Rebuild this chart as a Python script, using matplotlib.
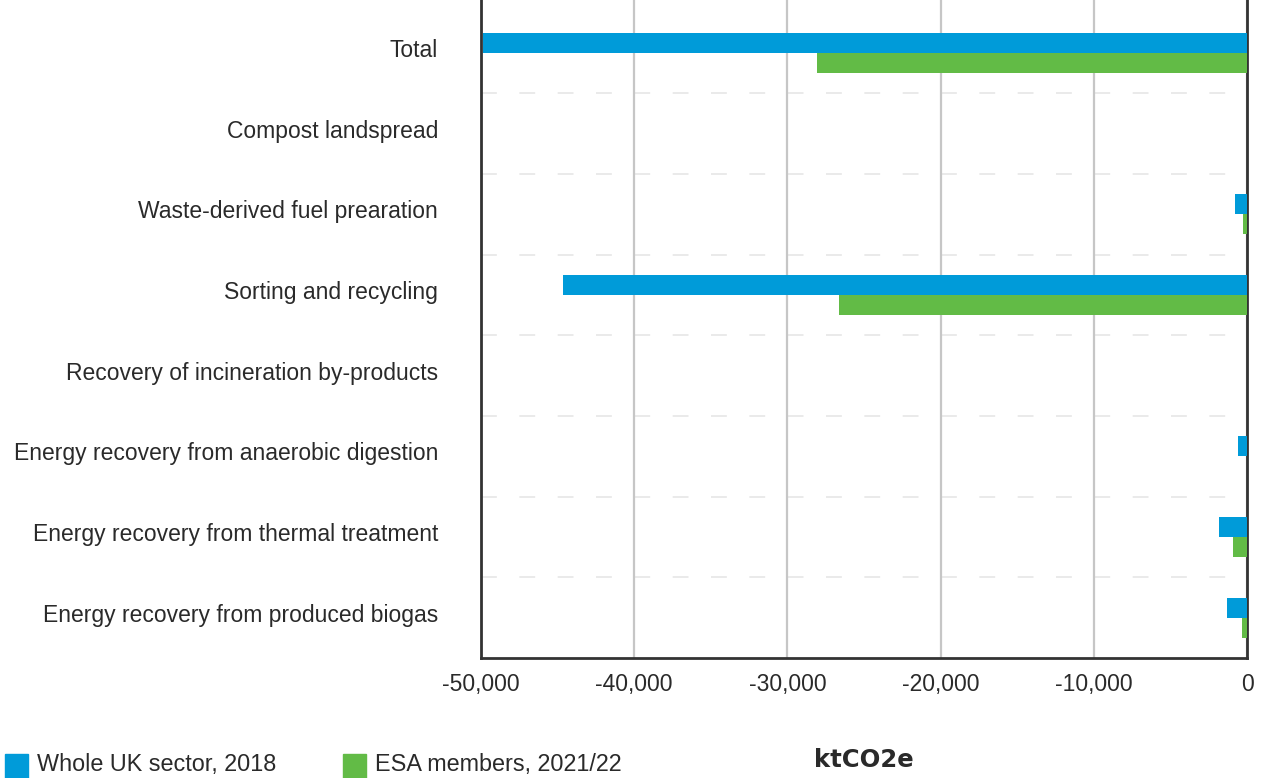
import matplotlib.pyplot as plt
import matplotlib.patches as mpatches
import matplotlib.transforms as mtransforms
import numpy as np

categories = [
    "Total",
    "Compost landspread",
    "Waste-derived fuel prearation",
    "Sorting and recycling",
    "Recovery of incineration by-products",
    "Energy recovery from anaerobic digestion",
    "Energy recovery from thermal treatment",
    "Energy recovery from produced biogas",
]
uk_2018 = [-49900, 0, -770, -44650, 0, -570, -1810, -1290]
esa_2122 = [-28100, 0, -250, -26650, 0, 0, -890, -310]
xticks = [-50000, -40000, -30000, -20000, -10000, 0]

blue = "#009BD9"
green = "#62BB46"
text_col = "#2a2a2a"

plt.rcParams['font.family'] = ['Liberation Sans', 'DejaVu Sans']

fig = plt.figure(figsize=(12.61, 7.78), dpi=100)
ax = fig.add_axes([481 / 1261, 1 - 658 / 778, (1247 - 481) / 1261, 658 / 778])

y = np.arange(len(categories))
h = 0.248
ax.barh(y - h / 2, uk_2018, height=h, color=blue, zorder=3)
ax.barh(y + h / 2, esa_2122, height=h, color=green, zorder=3)

ax.set_xlim(-50000, 0)
ax.set_ylim(7.5, -0.658)
ax.set_yticks(y)
ax.set_yticklabels(categories, fontsize=16.5, color=text_col)
ax.set_xticks(xticks)
ax.set_xticklabels([f"{v:,}" for v in xticks], fontsize=16.5, color=text_col)
ax.tick_params(axis='both', length=0)
ax.tick_params(axis='y', pad=31)
ax.tick_params(axis='x', pad=10.5)
shift_up = mtransforms.ScaledTranslation(0, 2.5 / 100, fig.dpi_scale_trans)
for lbl in ax.get_yticklabels():
    lbl.set_va('center')
    lbl.set_transform(lbl.get_transform() + shift_up)

ax.grid(axis='x', color='#c6c6c6', linewidth=1.6, zorder=0)
for yy in np.arange(0.5, len(categories) - 0.5, 1):
    ax.axhline(yy, color='#e6e6e6', linewidth=1.2, dashes=(9.5, 13.5), zorder=1)

for side in ['left', 'right', 'bottom']:
    ax.spines[side].set_color('#333333')
    ax.spines[side].set_linewidth(2)
ax.spines['top'].set_visible(False)

# legend along the bottom
fig.patches.append(mpatches.Rectangle((5 / 1261, 0), 23 / 1261, 24 / 778,
                                      transform=fig.transFigure, color=blue))
fig.text(37 / 1261, 13 / 778, "Whole UK sector, 2018", fontsize=16.8,
         color=text_col, va='center')
fig.patches.append(mpatches.Rectangle((343 / 1261, 0), 23 / 1261, 24 / 778,
                                      transform=fig.transFigure, color=green))
fig.text(375 / 1261, 13 / 778, "ESA members, 2021/22", fontsize=16.8,
         color=text_col, va='center')
fig.text(864 / 1261, 18 / 778, "ktCO2e", fontsize=17.5, fontweight='bold',
         color=text_col, ha='center', va='center', family=['DejaVu Sans'])

fig.savefig("out.png", dpi=100)
